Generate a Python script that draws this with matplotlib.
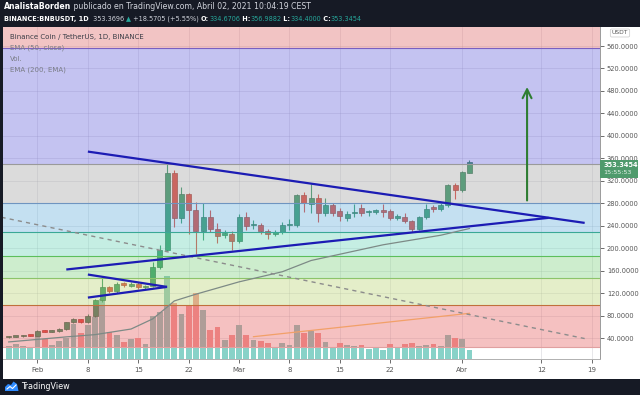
import numpy as np
import pandas as pd
import matplotlib
matplotlib.use("Agg")
import matplotlib.pyplot as plt
from matplotlib.patches import Rectangle, Polygon

# ---- data (BNB/USDT daily) ----
dates = pd.date_range("2021-01-28", "2021-04-02", freq="D")

opens = [41.5, 42.5, 43.0, 44.5, 44.2, 52.4, 51.3, 52.4, 56.0, 68.0,
         73.3, 68.5, 80.0, 108.0, 130.0, 124.0, 137.5, 133.0, 137.0, 131.0,
         132.0, 167.0, 197.0, 334.0, 253.0, 296.0, 268.0, 231.0, 255.0, 235.0,
         224.0, 225.0, 212.0, 255.0, 241.0, 241.0, 231.0, 226.0, 228.0, 241.0,
         241.0, 294.0, 278.0, 290.0, 263.0, 277.0, 266.0, 254.0, 262.0, 271.0,
         264.0, 265.0, 266.0, 266.0, 254.0, 256.0, 248.0, 234.0, 256.0, 272.0,
         269.0, 277.0, 312.0, 303.0, 334.6706]
highs = [43.5, 44.0, 45.0, 45.5, 53.5, 53.5, 53.5, 57.0, 69.0, 75.0,
         74.0, 82.0, 110.0, 147.0, 133.0, 140.0, 140.0, 139.0, 139.0, 134.0,
         176.0, 205.0, 351.0, 340.0, 309.0, 299.0, 282.0, 281.0, 268.0, 245.0,
         233.0, 230.0, 261.0, 265.0, 250.0, 245.0, 234.0, 233.0, 246.0, 252.0,
         297.0, 300.0, 315.0, 297.0, 290.0, 280.0, 272.0, 266.0, 279.0, 278.0,
         268.0, 270.0, 279.0, 270.0, 260.0, 262.0, 250.0, 258.0, 278.0, 276.0,
         280.0, 314.0, 316.0, 337.0, 356.9882]
lows = [40.5, 41.5, 42.5, 43.0, 43.5, 50.0, 50.5, 51.5, 55.0, 66.0,
        66.0, 67.0, 78.0, 104.0, 120.0, 121.0, 130.0, 130.0, 128.0, 128.0,
        130.0, 163.0, 195.0, 238.0, 245.0, 225.0, 190.0, 215.0, 228.0, 210.0,
        218.0, 196.0, 210.0, 233.0, 235.0, 226.0, 216.0, 222.0, 225.0, 232.0,
        238.0, 264.0, 262.0, 247.0, 258.0, 258.0, 249.0, 248.0, 256.0, 258.0,
        258.0, 260.0, 256.0, 250.0, 250.0, 244.0, 228.0, 232.0, 252.0, 265.0,
        266.0, 274.0, 288.0, 300.0, 334.4000]
closes = [42.5, 43.0, 44.0, 44.2, 52.4, 51.3, 52.4, 56.0, 68.0, 73.3,
          68.5, 80.0, 108.0, 130.0, 124.0, 137.0, 134.0, 136.0, 131.0, 132.0,
          167.0, 197.0, 333.0, 253.0, 296.0, 268.0, 231.0, 255.0, 235.0, 222.0,
          227.0, 212.0, 255.0, 240.0, 242.0, 230.0, 226.0, 228.0, 241.0, 242.0,
          295.0, 280.0, 290.0, 263.0, 277.0, 263.0, 257.0, 260.0, 264.0, 262.0,
          265.0, 266.0, 265.0, 254.0, 256.0, 248.0, 234.0, 256.0, 270.0, 270.0,
          276.0, 312.0, 303.0, 334.77, 353.3454]
# volume, millions of BNB
volume = [1.30, 1.53, 1.30, 1.17, 2.70, 1.97, 1.37, 1.80, 2.13, 3.53,
          2.60, 3.37, 4.20, 6.03, 2.70, 2.43, 1.70, 1.97, 2.10, 1.47,
          4.30, 4.70, 8.30, 5.60, 4.53, 5.27, 6.60, 4.87, 2.93, 3.17,
          1.87, 2.43, 3.37, 2.37, 1.87, 1.77, 1.63, 1.20, 1.63, 1.43,
          3.37, 2.63, 2.77, 2.63, 1.70, 1.10, 1.60, 1.37, 1.30, 1.43,
          1.03, 1.10, 0.93, 1.47, 1.20, 1.47, 1.63, 1.27, 1.43, 1.50,
          1.27, 2.43, 2.10, 1.97, 0.93]

# EMA 50 (sampled) and the volume average line
ema50_dates = ["2021-01-28", "2021-02-05", "2021-02-09", "2021-02-14", "2021-02-17",
               "2021-02-19", "2021-02-20", "2021-02-23", "2021-03-01", "2021-03-07",
               "2021-03-11", "2021-03-21", "2021-03-29", "2021-04-02"]
ema50_vals = [33, 42, 46, 56, 74, 95, 106, 118, 140, 158, 178, 206, 223, 235]
volma_dates = ["2021-03-03", "2021-03-18", "2021-04-02"]
volma_vals = [2.23, 3.40, 4.57]

# drawn lines
dash_line = (["2021-01-27", "2021-04-18"], [255, 39])
upper_line = (["2021-02-08", "2021-04-18"], [372, 245])
lower_line = (["2021-02-05", "2021-04-13"], [162, 254])
pennant_top = (["2021-02-08", "2021-02-19"], [153, 131])
pennant_bot = (["2021-02-08", "2021-02-19"], [112, 131])
arrow_date, arrow_from, arrow_to = "2021-04-10", 280, 492

# fib bands (price edges) and their looks
band_edges = [24, 99, 146, 186, 228, 280, 350, 556, 700]
band_fill = ["#e97777", "#c5db89", "#90d990", "#80dbc1", "#7cbce0",
             "#b1b1b1", "#7e7ae0", "#e47c7c"]
band_line = ["#e0a0a0", "#c0703c", "#8cc46a", "#5cbf5c", "#3aa896",
             "#6f95c0", "#9a9a9a", "#7a5fc0"]

price_ticks = list(range(40, 600, 40))
tick_dates = ["2021-02-01", "2021-02-08", "2021-02-15", "2021-02-22", "2021-03-01",
              "2021-03-08", "2021-03-15", "2021-03-22", "2021-04-01", "2021-04-12",
              "2021-04-19"]
tick_labels = ["Feb", "8", "15", "22", "Mar", "8", "15", "22", "Abr", "12", "19"]

W, H = 640, 395


def fx(px):
    return px / W


def fy(py):
    return 1 - py / H


fig = plt.figure(figsize=(6.4, 3.95), dpi=100, facecolor="#161a25")
fig.patches.append(Rectangle((fx(3), fy(379)), fx(637), 352 / H,
                             transform=fig.transFigure, fc="white", ec="none", zorder=-5))

ax = fig.add_axes([fx(3), fy(359), fx(597), 332 / H])
ax.set_facecolor("white")

x = pd.to_datetime(dates)
o = np.array(opens)
c = np.array(closes)
h = np.array(highs)
l = np.array(lows)
v = np.array(volume)
up = c >= o

ymin, ymax = 2.6, 593.9
vol_full = 33.2  # volume spanning the full axes height
xt = ax.get_xaxis_transform()

# volume bars (under the fib overlay)
ax.bar(x, v / vol_full, width=0.82, color=np.where(up, "#7fbdb4", "#f08a88"),
       transform=xt, zorder=1, lw=0)
strip = (band_edges[0] - ymin) / (ymax - ymin)
ax.bar(x, np.minimum(v / vol_full, strip), width=0.82, color="#88d2c8",
       transform=xt, zorder=1.1, lw=0)

# candles
col = np.where(up, "#1a8b51", "#e02a20")
ax.vlines(x, l, h, colors=col, lw=0.8, zorder=2)
body = np.maximum(np.abs(c - o), 2.5)
ax.bar(x, body, bottom=np.minimum(o, c), width=0.7, color=col,
       edgecolor=np.where(up, "#0f5a34", "#9a1a12"), lw=0.5, zorder=2.1)

# fib bands drawn over, semi transparent
for i in range(len(band_fill)):
    ax.axhspan(band_edges[i], band_edges[i + 1], color=band_fill[i], alpha=0.45,
               lw=0, zorder=3)
    ax.axhline(band_edges[i], color=band_line[i], lw=0.8, zorder=3.5)

# indicator lines
ax.plot(pd.to_datetime(ema50_dates), ema50_vals, color="#7d8a86", lw=0.9, zorder=4)
ax.plot(pd.to_datetime(volma_dates), np.array(volma_vals) / vol_full, color="#f2a068",
        lw=0.9, transform=xt, zorder=4)
ax.plot(pd.to_datetime(dash_line[0]), dash_line[1], color="#8c8c8c", lw=1.0,
        dashes=(3, 3), zorder=4)

# trend lines
for ln in (upper_line, lower_line, pennant_top, pennant_bot):
    ax.plot(pd.to_datetime(ln[0]), ln[1], color="#1c1cb4", lw=1.6, zorder=5,
            solid_capstyle="butt")
ax.annotate("", xy=(pd.Timestamp(arrow_date), arrow_to),
            xytext=(pd.Timestamp(arrow_date), arrow_from),
            arrowprops=dict(arrowstyle="->", color="#2e7d32", lw=1.5, mutation_scale=16),
            zorder=5)

ax.set_xlim(pd.Timestamp("2021-02-01") - pd.Timedelta(days=4.79),
            pd.Timestamp("2021-02-01") + pd.Timedelta(days=78.13))
ax.set_ylim(ymin, ymax)

ax.set_xticks(pd.to_datetime(tick_dates))
ax.set_xticklabels(tick_labels)
ax.yaxis.tick_right()
ax.set_yticks(price_ticks)
ax.set_yticklabels([f"{p:.4f}" for p in price_ticks])
ax.tick_params(axis="x", labelsize=5, colors="#555555", length=3, pad=3, width=0.6)
ax.tick_params(axis="y", labelsize=4.8, colors="#555555", length=3, pad=2, width=0.6)
ax.set_axisbelow(True)
ax.grid(True, color="#9090a0", alpha=0.25, lw=0.6)
for s in ("left", "top"):
    ax.spines[s].set_visible(False)
ax.spines["right"].set_color("#9a9a9a")
ax.spines["bottom"].set_color("#b0b0b0")
for s in ("right", "bottom"):
    ax.spines[s].set_linewidth(0.7)

# legend lines in the pane
ax.text(0.012, 0.971, "Binance Coin / TetherUS, 1D, BINANCE", transform=ax.transAxes,
        fontsize=5, color="#3a3d46", va="center", zorder=6)
for k, s in enumerate(["EMA (50, close)", "Vol.", "EMA (200, EMA)"]):
    ax.text(0.012, 0.938 - k * 0.0332, s, transform=ax.transAxes, fontsize=5,
            color="#7a7d86", va="center", zorder=6)

# last price tag
last = closes[-1]
ax.add_patch(Rectangle((1.0, last - 28.3), 38 / 597, 32, transform=ax.get_yaxis_transform(),
                       fc="#4f9a6c", ec="none", clip_on=False, zorder=10))
ax.annotate(f"{last:.4f}", xy=(1, last), xycoords=ax.get_yaxis_transform(),
            xytext=(2.5, -2), textcoords="offset points", fontsize=4.8, color="white",
            fontweight="bold", va="center", annotation_clip=False, zorder=11)
ax.annotate("15:55:53", xy=(1, last), xycoords=ax.get_yaxis_transform(),
            xytext=(2.5, -7.8), textcoords="offset points", fontsize=4.6, color="#e6f2ea",
            va="center", annotation_clip=False, zorder=11)
fig.text(fx(620), fy(33), "USDT", fontsize=4.3, color="#555555", ha="center", va="center",
         bbox=dict(boxstyle="round,pad=0.25", fc="white", ec="#c8c8c8", lw=0.5))


# header
def header_line(parts, x0, y0, size):
    prev = fig.text(x0, y0, parts[0][0], color=parts[0][1], fontsize=size,
                    fontweight=parts[0][2], va="bottom")
    for s, cl, wt in parts[1:]:
        prev = ax.annotate(s, xy=(1, 0), xycoords=prev, color=cl, fontsize=size,
                           fontweight=wt, va="bottom", ha="left", annotation_clip=False)


teal = "#26a69a"
lite = "#d1d4dc"
header_line([("AnalistaBorden", "white", "bold"),
             (" publicado en TradingView.com, Abril 02, 2021 10:04:19 CEST", lite, "normal")],
            fx(4), fy(11), 5.6)
header_line([("BINANCE:BNBUSDT, 1D ", "white", "bold"),
             (" 353.3696 ", lite, "normal"), ("\u25b2", teal, "normal"),
             (" +18.5705 (+5.55%) ", lite, "normal"),
             ("O:", "white", "bold"), (f"{opens[-1]:.4f}", teal, "normal"),
             (" H:", "white", "bold"), (f"{highs[-1]:.4f}", teal, "normal"),
             (" L:", "white", "bold"), (f"{lows[-1]:.4f}", teal, "normal"),
             (" C:", "white", "bold"), (f"{closes[-1]:.4f}", teal, "normal")],
            fx(4), fy(22), 4.7)

# footer logo
fig.patches.append(Polygon([(fx(5), fy(391)), (fx(5), fy(387)), (fx(8), fy(384)),
                            (fx(11), fy(385)), (fx(13.5), fy(381.5)), (fx(17), fy(384)),
                            (fx(18.5), fy(391))], closed=True, transform=fig.transFigure,
                           fc="#2e8bff", ec="none"))
fig.lines.append(plt.Line2D([fx(7), fx(10), fx(12.5), fx(16)], [fy(389), fy(386.5), fy(388.5), fy(385)],
                            transform=fig.transFigure, color="white", lw=0.8))
fig.text(fx(21), fy(386.5), "TradingView", fontsize=5.8, color="white", va="center")

fig.savefig("out.png", dpi=100, facecolor=fig.get_facecolor())
